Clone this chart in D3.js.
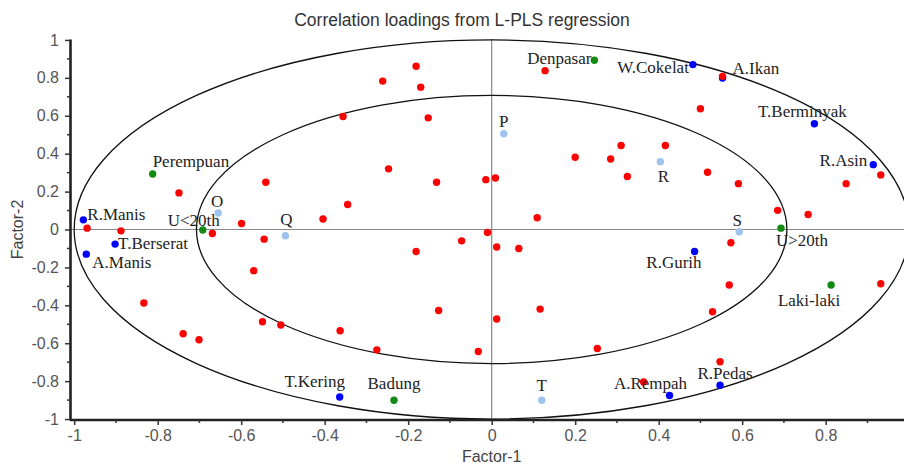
<!DOCTYPE html>
<html>
<head>
<meta charset="utf-8">
<script src="https://cdn.jsdelivr.net/npm/d3@7"></script>
<style>
  body { margin: 0; background: #fff; }
  svg { display: block; }
  .tick text { font-family: "Liberation Sans", Arial, sans-serif; font-size: 16px; fill: #555; }
  .lbl { font-family: "Liberation Serif", "Times New Roman", serif; font-size: 17px; fill: #222; }
</style>
</head>
<body>
<svg id="chart" width="904" height="464"></svg>
<script>
// unlabeled loadings (red)
const consumers = [
  [-0.969, 0.007], [-0.888, -0.007], [-0.749, 0.193], [-0.541, 0.249], [-0.599, 0.032],
  [-0.669, -0.021], [-0.545, -0.051], [-0.181, 0.861], [-0.261, 0.783], [-0.170, 0.751],
  [-0.356, 0.596], [-0.152, 0.589], [0.128, 0.838], [-0.247, 0.320], [-0.132, 0.249],
  [-0.014, 0.263], [0.009, 0.272], [-0.345, 0.132], [-0.404, 0.055], [0.200, 0.381],
  [0.109, 0.062], [-0.010, -0.016], [-0.072, -0.060], [0.500, 0.637], [0.310, 0.443],
  [0.416, 0.443], [0.285, 0.372], [0.325, 0.280], [0.517, 0.302], [0.591, 0.242],
  [0.849, 0.242], [0.932, 0.288], [0.685, 0.101], [0.758, 0.079], [0.553, 0.808],
  [0.573, -0.070], [-0.833, -0.388], [-0.739, -0.550], [-0.701, -0.582], [-0.570, -0.217],
  [-0.549, -0.487], [-0.505, -0.504], [-0.181, -0.116], [0.012, -0.092], [0.065, -0.100],
  [-0.127, -0.427], [0.116, -0.420], [0.012, -0.472], [-0.363, -0.534], [-0.275, -0.635],
  [-0.032, -0.644], [0.253, -0.628], [0.569, -0.293], [0.529, -0.434], [0.932, -0.286],
  [0.547, -0.698], [0.364, -0.804]
];

// sensory attributes (blue)
const attributes = [
  ["R.Manis", -0.978, 0.051], ["T.Berserat", -0.902, -0.077], ["A.Manis", -0.971, -0.130],
  ["W.Cokelat", 0.482, 0.870], ["A.Ikan", 0.553, 0.799], ["T.Berminyak", 0.773, 0.558],
  ["R.Asin", 0.914, 0.342], ["R.Gurih", 0.486, -0.116], ["A.Rempah", 0.426, -0.876],
  ["R.Pedas", 0.547, -0.822], ["T.Kering", -0.364, -0.884]
];

// consumer background (green)
const background = [
  ["Perempuan", -0.812, 0.293], ["U<20th", -0.692, -0.003], ["Denpasar", 0.246, 0.893],
  ["U>20th", 0.693, 0.007], ["Laki-laki", 0.813, -0.293], ["Badung", -0.234, -0.901]
];

// products (light blue)
const products = [
  ["O", -0.655, 0.087], ["Q", -0.494, -0.033], ["P", 0.029, 0.505],
  ["R", 0.404, 0.358], ["S", 0.593, -0.012], ["T", 0.120, -0.901]
];

const majorTicksX = [-1, -0.8, -0.6, -0.4, -0.2, 0, 0.2, 0.4, 0.6, 0.8];
const majorTicksY = [-1, -0.8, -0.6, -0.4, -0.2, 0, 0.2, 0.4, 0.6, 0.8, 1];
const minorTicks = [-0.9, -0.7, -0.5, -0.3, -0.1, 0.1, 0.3, 0.5, 0.7, 0.9];
const circleRadii = [1, Math.SQRT1_2];

// label placement: dx, dy (baseline), anchor
const labelPos = {
  "R.Manis": [4, 0, "start"], "T.Berserat": [3, 5, "start"], "A.Manis": [6, 14, "start"],
  "W.Cokelat": [-4, 8, "end"], "A.Ikan": [10, -4, "start"], "T.Berminyak": [-12, -7, "middle"],
  "R.Asin": [-6, 1, "end"], "R.Gurih": [7, 17, "end"], "A.Rempah": [-19, -7, "middle"],
  "R.Pedas": [5, -6, "middle"], "T.Kering": [-25, -10, "middle"],
  "Perempuan": [0, -7, "start"], "U<20th": [-9, -4, "middle"], "Denpasar": [-3, 4, "end"],
  "U>20th": [-5, 18, "start"], "Laki-laki": [-22, 21, "middle"], "Badung": [0, -11, "middle"],
  "O": [-1, -6, "middle"], "Q": [1, -11, "middle"], "P": [0, -7, "middle"],
  "R": [3, 20, "middle"], "S": [-2, -6, "middle"], "T": [0, -9, "middle"]
};

const svg = d3.select("#chart");

let x = d3.scaleLinear().domain([-1.01, 0.99]).range([70, 905]);
let y = d3.scaleLinear().domain([-1.005, 1.005]).range([420, 39]);

const fmt = d => String(+d.toFixed(1));

// title
svg.append("text")
  .attr("x", 462).attr("y", 26)
  .attr("text-anchor", "middle")
  .style("font-family", "Liberation Sans, Arial, sans-serif")
  .style("font-size", "17.5px")
  .style("fill", "#333")
  .text("Correlation loadings from L-PLS regression");

// zero lines
svg.append("line")
  .attr("x1", x(-1.01)).attr("x2", 904)
  .attr("y1", y(0)).attr("y2", y(0))
  .attr("stroke", "#888").attr("stroke-width", 1.2);
svg.append("line")
  .attr("x1", x(0)).attr("x2", x(0))
  .attr("y1", y(1.005)).attr("y2", y(-1.005))
  .attr("stroke", "#888").attr("stroke-width", 1.2);

// correlation circles
svg.selectAll("ellipse.circ")
  .data(circleRadii)
  .join("ellipse")
  .attr("class", "circ")
  .attr("cx", x(0)).attr("cy", y(0))
  .attr("rx", r => x(r) - x(0))
  .attr("ry", r => y(0) - y(r))
  .attr("fill", "none")
  .attr("stroke", "#111")
  .attr("stroke-width", 1.3);

// axes
let xAxis = d3.axisBottom(x).tickValues(majorTicksX).tickFormat(fmt).tickSize(5).tickSizeOuter(0).tickPadding(5);
let yAxis = d3.axisLeft(y).tickValues(majorTicksY).tickFormat(fmt).tickSize(5).tickSizeOuter(0).tickPadding(6);

let gx = svg.append("g").attr("transform", `translate(0, ${y(-1.005)})`).call(xAxis);
let gy = svg.append("g").attr("transform", `translate(${x(-1.01)}, 0)`).call(yAxis);

gx.select(".domain").attr("d", `M${x(-1.01)},0H904`);

[gx, gy].forEach(g => {
  g.select(".domain").attr("stroke", "#222").attr("stroke-width", 2.6);
  g.selectAll(".tick line").attr("stroke", "#333").attr("stroke-width", 1.5);
});

gx.selectAll(".minor")
  .data(minorTicks)
  .join("line")
  .attr("class", "minor")
  .attr("x1", d => x(d)).attr("x2", d => x(d))
  .attr("y1", 0).attr("y2", 3)
  .attr("stroke", "#333").attr("stroke-width", 1.5);

gy.selectAll(".minor")
  .data(minorTicks)
  .join("line")
  .attr("class", "minor")
  .attr("y1", d => y(d)).attr("y2", d => y(d))
  .attr("x1", 0).attr("x2", -3)
  .attr("stroke", "#333").attr("stroke-width", 1.5);

// axis titles
svg.append("text")
  .attr("x", x(0)).attr("y", 462)
  .attr("text-anchor", "middle")
  .style("font-family", "Liberation Sans, Arial, sans-serif")
  .style("font-size", "16px").style("fill", "#444")
  .text("Factor-1");
svg.append("text")
  .attr("transform", `translate(23, ${y(0)}) rotate(-90)`)
  .attr("text-anchor", "middle")
  .style("font-family", "Liberation Sans, Arial, sans-serif")
  .style("font-size", "16px").style("fill", "#444")
  .text("Factor-2");

// points
const groups = [
  { data: attributes, color: "#0000ff" },
  { data: background, color: "#138a13" },
  { data: products, color: "#9dc3ee" }
];

let dots = svg.append("g");
groups.forEach(grp => {
  dots.selectAll(null)
    .data(grp.data)
    .join("circle")
    .attr("cx", d => x(d[1]))
    .attr("cy", d => y(d[2]))
    .attr("r", 3.7)
    .attr("fill", grp.color);
});

dots.selectAll(null)
  .data(consumers)
  .join("circle")
  .attr("cx", d => x(d[0]))
  .attr("cy", d => y(d[1]))
  .attr("r", 3.7)
  .attr("fill", "#ff0000");

// labels
let labelled = attributes.concat(background, products);
svg.append("g")
  .selectAll("text")
  .data(labelled)
  .join("text")
  .attr("class", "lbl")
  .attr("x", d => x(d[1]) + labelPos[d[0]][0])
  .attr("y", d => y(d[2]) + labelPos[d[0]][1])
  .attr("text-anchor", d => labelPos[d[0]][2])
  .text(d => d[0]);
</script>
</body>
</html>
